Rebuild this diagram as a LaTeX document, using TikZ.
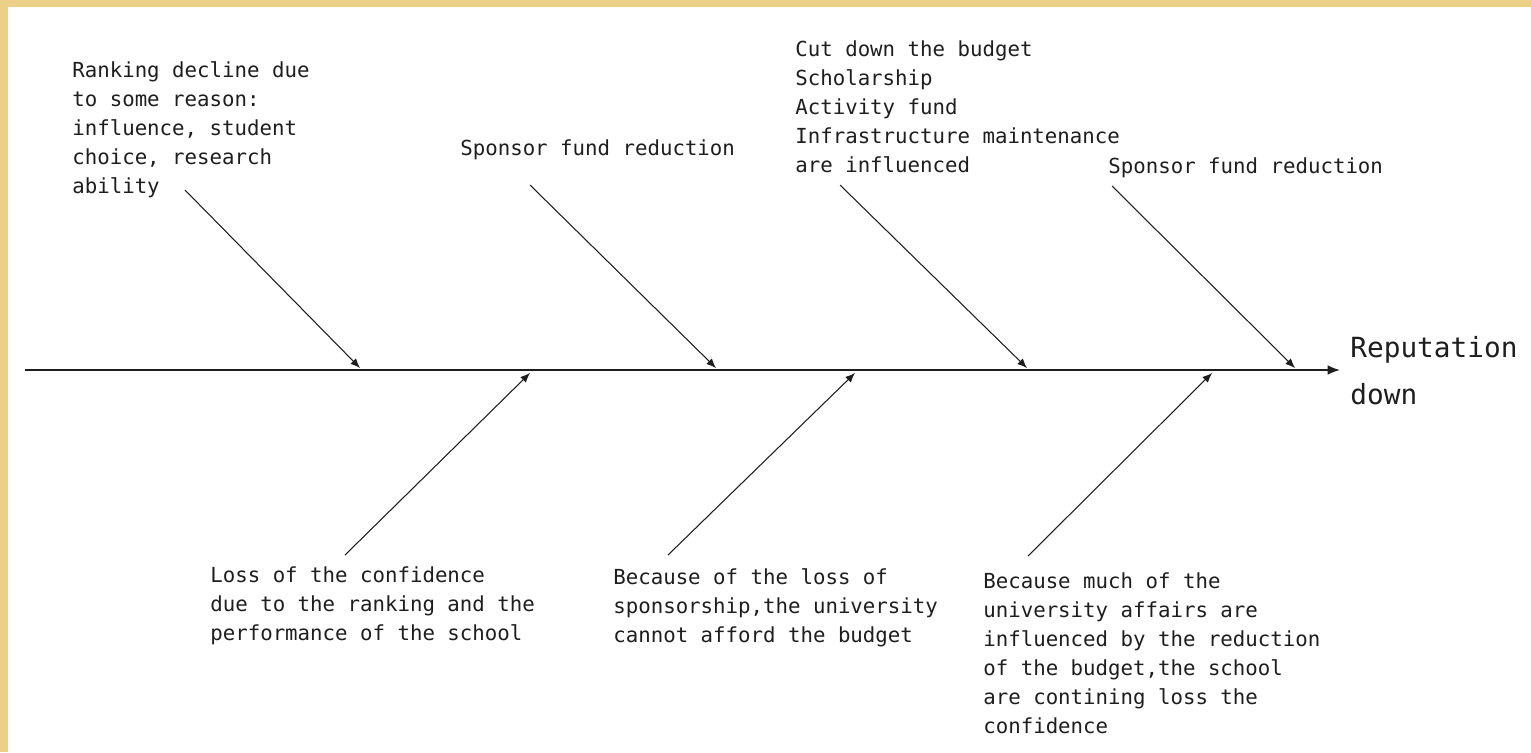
\documentclass[tikz,border=0pt]{standalone}
\usepackage{fontspec}
\newfontfamily\monofont{DejaVu Sans Mono}
\usepackage{tikz}
\usetikzlibrary{arrows.meta}
\definecolor{frame}{RGB}{236,208,135}
\definecolor{ink}{RGB}{30,30,30}
\tikzset{
	lbl/.style = {anchor=north west, inner sep=0, align=left, text=ink, font=\monofont\fontsize{11.8}{16.5}\selectfont},
	bone/.style = {draw=ink, line width=.6pt, -{Latex[length=5.5pt,width=4.5pt]}},
	spine/.style = {draw=ink, line width=1pt, -{Latex[length=7pt,width=5.5pt]}},
}

\begin{document}
\begin{tikzpicture}[x=.02cm, y=-.02cm]
	\useasboundingbox (0,0) rectangle (1531,752);
	\fill [white] (0,0) rectangle (1531,752);
	\fill [frame] (0,0) rectangle (1531,7);
	\fill [frame] (0,0) rectangle (8,752);

	\node [lbl] (rank) at (72,61) {Ranking decline due\\to some reason:\\influence, student\\choice, research\\ability};
	\node [lbl] (spons1) at (460,139) {Sponsor fund reduction};
	\node [lbl] (budget) at (795,40) {Cut down the budget\\Scholarship\\Activity fund\\Infrastructure maintenance\\are influenced};
	\node [lbl] (spons2) at (1108,157) {Sponsor fund reduction};
	\node [lbl] (conf) at (210,566) {Loss of the confidence\\due to the ranking and the\\performance of the school};
	\node [lbl] (afford) at (613,568) {Because of the loss of\\sponsorship,the university\\cannot afford the budget};
	\node [lbl] (affairs) at (983,572) {Because much of the\\university affairs are\\influenced by the reduction\\of the budget,the school\\are contining loss the\\confidence};
	\node [lbl, font=\monofont\fontsize{15.8}{26.8}\selectfont] (rep) at (1350,336) {Reputation\\down};

	\coordinate (tail) at (25,370);
	\coordinate (head) at (1340,370);
	\coordinate (t1) at (185,190);
	\coordinate (t2) at (530,185);
	\coordinate (t3) at (840,185);
	\coordinate (t4) at (1112,186);
	\coordinate (e1) at (360,368);
	\coordinate (e2) at (716,368);
	\coordinate (e3) at (1027,368);
	\coordinate (e4) at (1295,368);
	\coordinate (b1) at (345,555);
	\coordinate (b2) at (668,555);
	\coordinate (b3) at (1028,556);
	\coordinate (f1) at (530,373);
	\coordinate (f2) at (855,373);
	\coordinate (f3) at (1212,373);

	\draw [spine] (tail) -- (head);
	\draw [bone] (t1) -- (e1);
	\draw [bone] (t2) -- (e2);
	\draw [bone] (t3) -- (e3);
	\draw [bone] (t4) -- (e4);
	\draw [bone] (b1) -- (f1);
	\draw [bone] (b2) -- (f2);
	\draw [bone] (b3) -- (f3);

\end{tikzpicture}
\end{document}
